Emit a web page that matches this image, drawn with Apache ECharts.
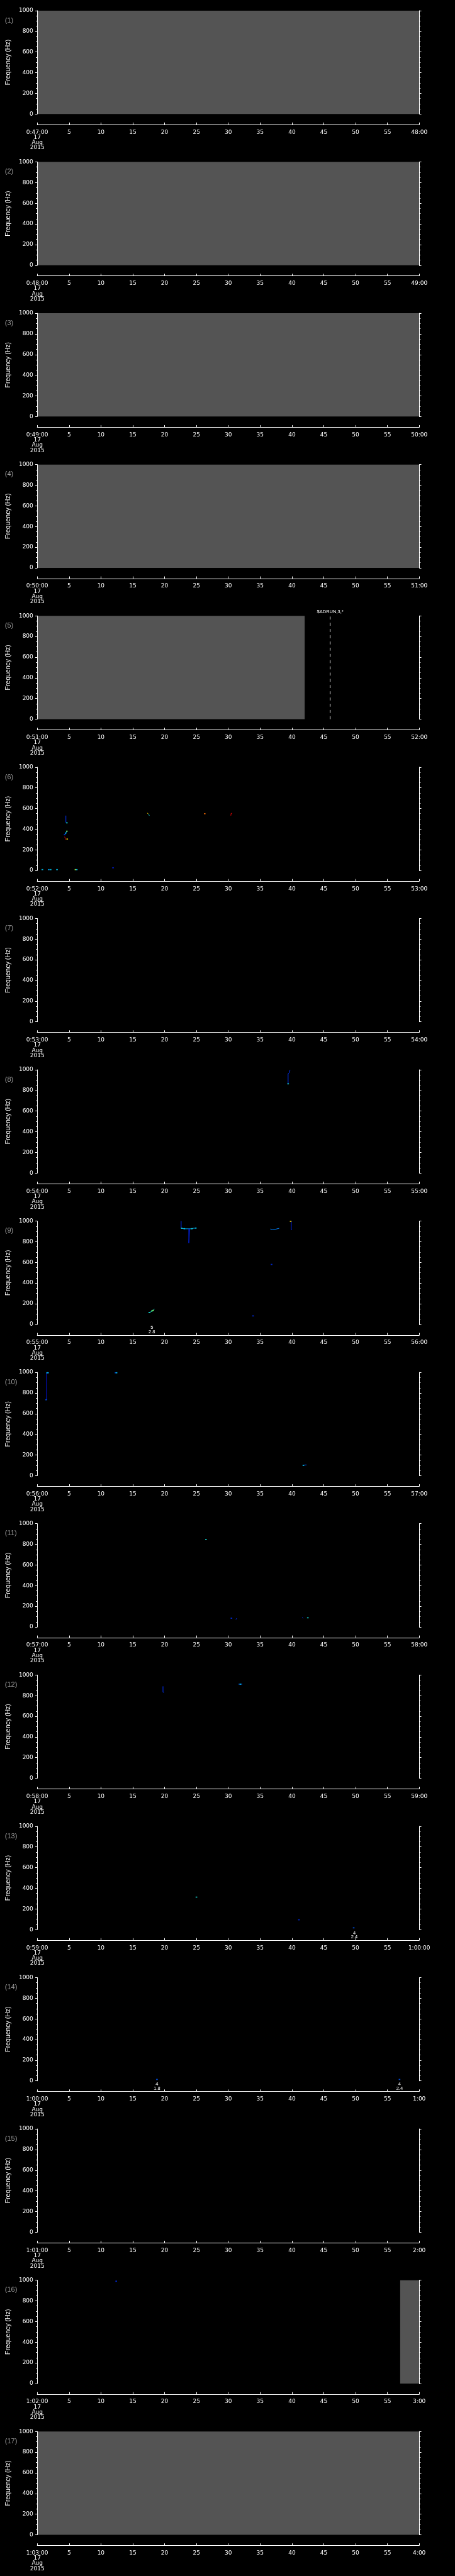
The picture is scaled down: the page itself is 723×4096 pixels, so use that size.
<!DOCTYPE html>
<html>
<head>
<meta charset="utf-8">
<title>Frequency spectrogram, 17 Aug 2015</title>
<script src="https://cdn.jsdelivr.net/npm/echarts@6/dist/echarts.min.js"></script>
<style>
  html, body { margin: 0; padding: 0; background: #000; }
  #chart { width: 723px; height: 4096px; }
</style>
</head>
<body>
<div id="chart"></div>
<script>
// ---- data ----
// first / last time label of each one-minute panel
const startLabels = ['0:47:00', '0:48:00', '0:49:00', '0:50:00', '0:51:00', '0:52:00', '0:53:00', '0:54:00', '0:55:00',
  '0:56:00', '0:57:00', '0:58:00', '0:59:00', '1:00:00', '1:01:00', '1:02:00', '1:03:00']
const endLabels = ['48:00', '49:00', '50:00', '51:00', '52:00', '53:00', '54:00', '55:00', '56:00',
  '57:00', '58:00', '59:00', '1:00:00', '1:00', '2:00', '3:00', '4:00']
const dateLines = ['17', 'Aug', '2015']

// grey "no data" spans: [panel, fromSec, toSec]
const noData = [[0, 0, 60], [1, 0, 60], [2, 0, 60], [3, 0, 60], [4, 0, 42], [15, 57, 60], [16, 0, 60]]

// event markers: [panel, sec, text]
const events = [[4, 46, '$ADRUN,3,*']]

// spectral tracks: [panel, level (0..1), [[sec, Hz], ...]]
const tracks = [
  [5, 0.15, [[4.5, 531], [4.5, 464]]],
  [5, 0.25, [[4.3, 346], [4.45, 360], [4.55, 370], [4.7, 383]]],
  [5, 1.0, [[4.3, 326], [4.4, 310], [4.5, 297]]],
  [5, 0.7, [[17.3, 557], [17.4, 548]]],
  [5, 0.4, [[17.5, 545], [17.6, 531]]],
  [5, 1.0, [[30.4, 531], [30.45, 553], [30.6, 553]]],
  [7, 0.15, [[39.4, 864], [39.4, 960], [39.6, 975], [39.7, 997]]],
  [8, 0.15, [[22.6, 1000], [22.6, 934]]],
  [8, 0.3, [[22.6, 932], [22.9, 927], [23.3, 925], [23.8, 925], [24.2, 925], [24.5, 930], [24.9, 932]]],
  [8, 0.1, [[23.8, 924], [23.8, 788], [23.95, 788], [23.95, 924]]],
  [8, 0.25, [[36.6, 923], [37.0, 918], [37.5, 922], [38.0, 930]]],
  [8, 0.1, [[39.9, 999], [39.9, 917], [40.0, 917]]],
  [8, 0.4, [[17.5, 115], [17.7, 115], [17.7, 125], [17.9, 125], [17.9, 133], [18.2, 133], [18.2, 143], [18.4, 150]]],
  [9, 0.05, [[1.43, 735], [1.43, 996]]],
  [9, 0.2, [[41.8, 100], [42.0, 104], [42.3, 104]]],
  [10, 0.15, [[31.2, 72], [31.3, 84]]],
  [10, 0.15, [[41.6, 93], [41.75, 85]]],
  [11, 0.15, [[19.75, 890], [19.75, 833], [19.9, 833]]],
  [11, 0.2, [[31.6, 911], [32.2, 911]]]
]

// single spectral pixels: [panel, sec, Hz, level]
const dots = [
  [5, 4.65, 461, 0.4], [5, 4.3, 346, 0.15], [5, 4.45, 362, 0.35], [5, 4.65, 380, 0.55], [5, 4.7, 304, 0.7],
  [5, 0.8, 8, 0.35], [5, 1.8, 8, 0.3], [5, 2.1, 8, 0.35], [5, 3.1, 8, 0.35], [5, 6.0, 8, 0.6], [5, 6.2, 8, 0.35],
  [5, 11.9, 26, 0.1], [5, 26.3, 549, 0.85],
  [7, 39.4, 864, 0.4],
  [8, 22.7, 930, 0.4], [8, 23.1, 926, 0.35], [8, 24.3, 926, 0.4], [8, 24.9, 932, 0.35], [8, 39.8, 997, 0.7],
  [8, 36.8, 580, 0.15], [8, 33.9, 82, 0.15], [8, 17.6, 115, 0.4], [8, 18.0, 130, 0.5], [8, 18.2, 135, 0.55],
  [9, 1.55, 996, 0.35], [9, 1.7, 996, 0.3], [9, 1.4, 735, 0.2], [9, 12.3, 996, 0.2], [9, 12.45, 996, 0.35],
  [9, 41.8, 100, 0.35],
  [10, 26.5, 846, 0.4], [10, 30.5, 85, 0.15], [10, 42.5, 89, 0.4],
  [11, 31.9, 911, 0.35],
  [12, 25.0, 314, 0.4], [12, 41.1, 95, 0.15], [12, 49.7, 17, 0.2],
  [13, 18.8, 14, 0.2], [13, 56.9, 14, 0.2],
  [15, 12.4, 990, 0.15]
]

// small two-line notes under the plot: [panel, sec, upper, lower]
const notes = [[8, 18, '5', '2.8'], [12, 49.8, '4', '2.4'], [13, 18.8, '4', '1.8'], [13, 56.9, '4', '2.4']]

// ---- layout (reference px * 0.705) ----
const S = 0.705
const PANELS = startLabels.length
const LEFT = 80 * S
const PLOT_W = 865 * S
const PLOT_H = 233 * S
const panelTop = i => (24 + 341.25 * i) * S

// jet-like colour table for levels
const jetStops = [[0, [0, 0, 170]], [0.15, [0, 50, 255]], [0.35, [0, 210, 255]], [0.5, [70, 255, 150]],
  [0.65, [255, 255, 0]], [0.82, [255, 130, 0]], [1, [225, 0, 0]]]
const jet = v => {
  for (let k = 1; k < jetStops.length; k++) {
    if (v <= jetStops[k][0]) {
      const [a, ca] = jetStops[k - 1]
      const [b, cb] = jetStops[k]
      const t = (v - a) / (b - a)
      const c = ca.map((x, j) => Math.round(x + (cb[j] - x) * t))
      return `rgb(${c.join(',')})`
    }
  }
  return 'rgb(225,0,0)'
}

const white = '#ffffff'
const tickFont = 'DejaVu Sans'

const grids = []
const xAxes = []
const yAxes = []
const series = []

for (let i = 0; i < PANELS; i++) {
  grids.push({ left: LEFT, top: panelTop(i), width: PLOT_W, height: PLOT_H })

  xAxes.push({
    type: 'value', gridIndex: i, min: 0, max: 60, interval: 5,
    position: 'bottom', offset: 24 * S, z: 10,
    axisLine: { show: true, onZero: false, lineStyle: { color: white, width: 1 } },
    axisTick: { show: true, inside: true, length: 3.3, lineStyle: { color: white } },
    splitLine: { show: false },
    axisLabel: {
      color: white, fontSize: 9, fontFamily: tickFont, lineHeight: 8.3, margin: 8,
      showMinLabel: true, showMaxLabel: true, hideOverlap: false,
      formatter: v => v === 0 ? [startLabels[i], ...dateLines].join('\n') : (v === 60 ? endLabels[i] : String(v))
    }
  })

  const yBase = {
    type: 'value', gridIndex: i, min: 0, max: 1000, interval: 200, z: 10,
    axisLine: { show: true, onZero: false, lineStyle: { color: white, width: 1 } },
    axisTick: { show: true, length: 3.3, lineStyle: { color: white } },
    minorTick: { show: true, splitNumber: 4, length: 2, lineStyle: { color: white } },
    splitLine: { show: false }
  }
  yAxes.push({
    ...yBase, position: 'left',
    name: 'Frequency (Hz)', nameLocation: 'middle', nameGap: 35,
    nameTextStyle: { color: white, fontSize: 10.5, fontFamily: 'Liberation Sans' },
    axisLabel: { color: white, fontSize: 9, fontFamily: tickFont, margin: 6.4, formatter: v => String(v) }
  })
  yAxes.push({ ...yBase, position: 'right', axisLabel: { show: false } })

  // grey no-data blocks
  series.push({
    type: 'custom', xAxisIndex: i, yAxisIndex: 2 * i, z: 1, silent: true,
    data: noData.filter(d => d[0] === i).map(d => [d[1], d[2]]),
    renderItem: (params, api) => {
      const p0 = api.coord([api.value(0), 1000])
      const p1 = api.coord([api.value(1), 0])
      return { type: 'rect', shape: { x: p0[0], y: p0[1], width: p1[0] - p0[0], height: p1[1] - p0[1] }, style: { fill: '#545454' } }
    }
  })

  // event markers
  events.filter(e => e[0] === i).forEach(e => {
    series.push({
      type: 'line', xAxisIndex: i, yAxisIndex: 2 * i, data: [], z: 6,
      markLine: {
        silent: true, symbol: 'none', animation: false,
        lineStyle: { color: white, width: 1, type: [4.7, 5.2] },
        label: { show: true, position: 'end', distance: 2, formatter: e[2], color: white, fontSize: 7.5, fontFamily: 'Liberation Sans' },
        data: [{ xAxis: e[1] }]
      }
    })
  })

  // tracks
  tracks.filter(t => t[0] === i).forEach(t => {
    series.push({
      type: 'line', xAxisIndex: i, yAxisIndex: 2 * i, data: t[2], z: 5,
      symbol: 'none', showSymbol: false, silent: true,
      lineStyle: { color: jet(t[1]), width: 1 }
    })
  })

  // pixels
  const pd = dots.filter(d => d[0] === i).map(d => [d[1], d[2], d[3]])
  if (pd.length) {
    series.push({
      type: 'scatter', xAxisIndex: i, yAxisIndex: 2 * i, data: pd, z: 6, silent: true,
      symbol: 'rect', symbolSize: [2.6, 1.8],
      itemStyle: { color: p => jet(p.data[2]) }
    })
  }
}

const chart = echarts.init(document.getElementById('chart'), null, { renderer: 'canvas' })
chart.setOption({
  backgroundColor: '#000000',
  animation: false,
  grid: grids,
  xAxis: xAxes,
  yAxis: yAxes,
  series: series
})

// panel numbers and notes
const graphics = []
for (let i = 0; i < PANELS; i++) {
  graphics.push({
    type: 'text', left: 14.8 - 7, top: panelTop(i) + 16.7 - 6.5,
    style: { text: `(${i + 1})`, fill: '#9a9a9a', fontSize: 11, fontFamily: 'Liberation Sans' }
  })
}
notes.forEach(n => {
  const p = chart.convertToPixel({ gridIndex: n[0] }, [n[1], 0])
  graphics.push({
    type: 'text', x: p[0], y: p[1] + 5.3,
    style: { text: n[2], fill: white, fontSize: 7.5, fontFamily: 'Liberation Sans', align: 'center', verticalAlign: 'middle' }
  })
  graphics.push({
    type: 'text', x: p[0], y: p[1] + 11.8,
    style: { text: n[3], fill: white, fontSize: 7.5, fontFamily: 'Liberation Sans', align: 'center', verticalAlign: 'middle' }
  })
})
chart.setOption({ graphic: graphics })
</script>
</body>
</html>
